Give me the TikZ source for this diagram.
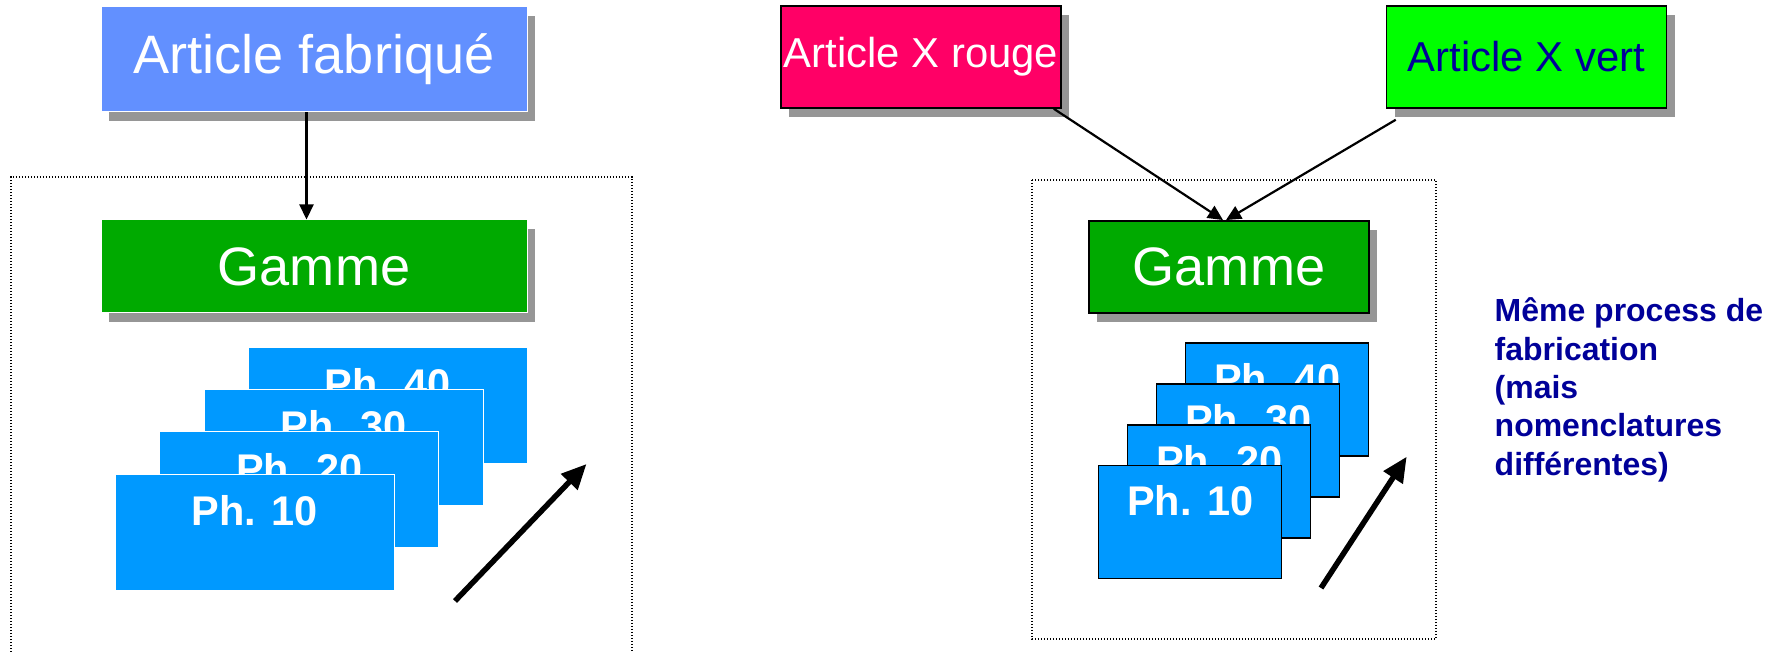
\documentclass[tikz,border=0pt]{standalone}
\usepackage{fontspec}
\setmainfont{Liberation Sans}
\usetikzlibrary{arrows.meta,shadows}
\definecolor{artblue}{HTML}{6290FF}
\definecolor{gamgreen}{HTML}{00AA00}
\definecolor{phblue}{HTML}{0099FF}
\definecolor{shgray}{HTML}{969696}
\definecolor{rougeX}{HTML}{FF0066}
\definecolor{vertX}{HTML}{00FF00}
\definecolor{navytxt}{HTML}{000099}
\tikzset{
	shad/.style={drop shadow={shadow xshift=0.8mm,shadow yshift=-0.95mm,fill=shgray,opacity=1}},
	bigbox/.style={shad,inner sep=0,minimum width=42.6mm,font=\fontsize{15.4}{18}\selectfont,text=white,draw=white,line width=0.1mm},
	artbox/.style={shad,inner sep=0,minimum width=28mm,minimum height=10.2mm,draw=black,line width=0.15mm,font=\fontsize{11.9}{14}\selectfont},
	phaseL/.style={fill=phblue,draw=white,line width=0.1mm,minimum width=27.9mm,minimum height=11.6mm,inner sep=0},
	phaseR/.style={fill=phblue,draw=black,line width=0.15mm,minimum width=18.3mm,minimum height=11.3mm,inner sep=0},
	phtext/.style={anchor=base,inner sep=0,text=white,font=\bfseries\fontsize{11.8}{14}\selectfont},
	frame/.style={line width=0.12mm,dash pattern=on 0.15mm off 0.15mm},
	thinarrow/.style={line width=0.22mm,-{Triangle[length=1.5mm,width=1.4mm]}},
	bigarrow/.style={line width=0.55mm,-{Triangle[length=2.5mm,width=2.2mm]}}
}
\begin{document}
\begin{tikzpicture}[x=0.1mm,y=-0.1mm]
	\useasboundingbox (0,0) rectangle (1776,652);
	% left: one article
	\draw[frame] (11,652) -- (11,177) -- (632,177) -- (632,652);
	\node[bigbox,fill=artblue,minimum height=10.5mm] (artfab) at (314,59.5) {Article fabriqué};
	\node[bigbox,fill=gamgreen,minimum height=9.3mm] (gam1) at (314,266.5) {Gamme};
	\draw[thinarrow] ([xshift=-0.75mm]artfab.south) -- ([xshift=-0.75mm]gam1.north);
	% phases
	\foreach \i/\n in {3/40,2/30,1/20,0/10} {
		\node[phaseL] (phL\n) at ({254.75+44.4*\i},{532-42.3*\i}) {};
		\node[phtext] at ([yshift=-5.2mm]phL\n.north) {Ph. \n};
	}
	\coordinate (t1s) at (455,601);
	\coordinate (t1e) at (586.5,464);
	\draw[bigarrow] (t1s) -- (t1e);
	% right: two articles, one routing
	\draw[frame] (1032,180) rectangle (1436,639);
	\node[artbox,fill=rougeX,text=white] (rouge) at (921,57) {Article X rouge};
	\node[artbox,fill=vertX,text=navytxt] (vert) at (1526.5,57) {Article X vert};
	\node[shad,fill=gamgreen,draw=black,line width=0.15mm,inner sep=0,minimum width=28mm,minimum height=9.2mm,text=white,font=\fontsize{15.4}{18}\selectfont] (gam2) at (1229,266.8) {Gamme};
	\draw[thinarrow] ([xshift=-0.8mm]rouge.south east) -- ([xshift=-0.6mm]gam2.north);
	\draw[thinarrow] ([xshift=1mm,yshift=-1.1mm]vert.south west) -- ([xshift=-0.3mm]gam2.north);
	\foreach \i/\n in {3/40,2/30,1/20,0/10} {
		\node[phaseR] (phR\n) at ({1190.2+29*\i},{522.2-40.9*\i}) {};
		\node[phtext] at ([yshift=-5.1mm]phR\n.north) {Ph. \n};
	}
	\coordinate (t2s) at (1321,588);
	\coordinate (t2e) at (1406.7,456.7);
	\draw[bigarrow] (t2s) -- (t2e);
	% note
	\node[anchor=base west,inner sep=0,align=left,text=navytxt,font=\bfseries\fontsize{9.1}{10.9}\selectfont] (note) at (1494,475)
		{Même process de\\fabrication\\(mais\\nomenclatures\\différentes)};
\end{tikzpicture}
\end{document}
